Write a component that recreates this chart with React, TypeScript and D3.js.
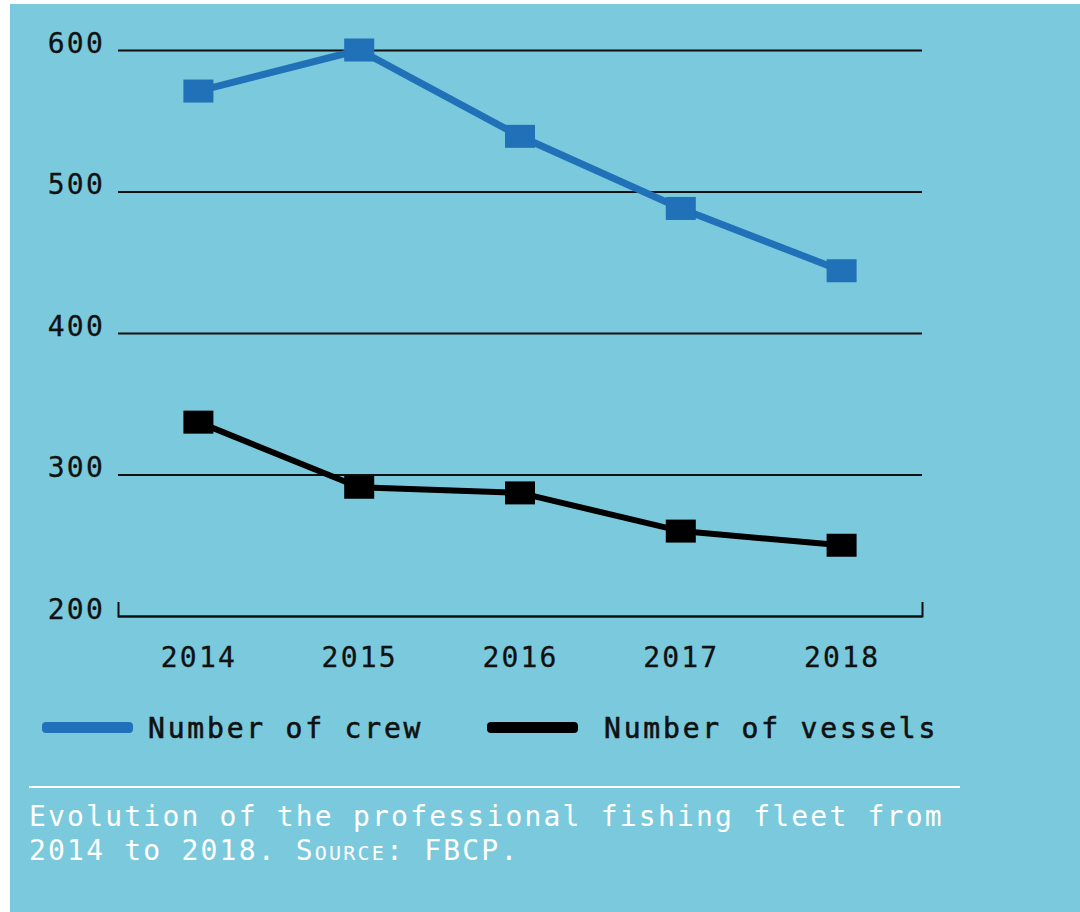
import React, { useEffect, useRef } from 'react';
import * as d3 from 'd3';

const years = ['2014', '2015', '2016', '2017', '2018'];
const crew = [571, 600, 539, 488, 444];
const vessels = [337, 291, 287, 260, 250];
const yTicks = [200, 300, 400, 500, 600];

const BG = '#7bc9dc';
const BLUE = '#2171b8';
const INK = '#111';
const FONT = '"DejaVu Sans Mono", "Liberation Mono", monospace';

const App: React.FC = () => {
  const ref = useRef<SVGSVGElement | null>(null);

  useEffect(() => {
    if (!ref.current) return;
    const svg = d3.select(ref.current);
    svg.selectAll('*').remove();

    svg.append('rect').attr('width', 1080).attr('height', 912).attr('fill', '#fff');
    svg.append('rect').attr('x', 10).attr('y', 4).attr('width', 1070).attr('height', 908).attr('fill', BG);

    const x = d3.scalePoint<string>().domain(years).range([118, 922]).padding(0.5);
    const y = d3.scaleLinear().domain([200, 600]).range([616, 50]);

    // horizontal grid + y labels
    const gy = svg.append('g')
      .attr('transform', 'translate(118,0)')
      .call(d3.axisLeft(y).tickValues(yTicks).tickSize(-804).tickPadding(13).tickFormat(d3.format('d')));
    gy.select('.domain').remove();
    gy.selectAll('.tick line').attr('stroke', INK).attr('stroke-width', 2);
    gy.selectAll('.tick text')
      .attr('fill', INK)
      .attr('stroke', INK)
      .attr('stroke-width', 0.3)
      .attr('dy', 2)
      .style('font-family', FONT)
      .style('font-size', '28px')
      .style('letter-spacing', '2.2px');

    // bottom axis with end ticks pointing up
    const gx = svg.append('g')
      .attr('transform', `translate(0,${y(200)})`)
      .call(d3.axisBottom(x).tickSizeInner(0).tickSizeOuter(-14).tickPadding(31));
    gx.select('.domain').attr('stroke', INK).attr('stroke-width', 2);
    gx.selectAll('.tick text')
      .attr('fill', INK)
      .attr('stroke', INK)
      .attr('stroke-width', 0.3)
      .style('font-family', FONT)
      .style('font-size', '28px')
      .style('letter-spacing', '2.2px');

    const line = d3.line<number>()
      .x((_, i) => x(years[i]) as number)
      .y(d => y(d));

    const series = [
      { values: crew, color: BLUE, width: 7 },
      { values: vessels, color: '#000', width: 6 },
    ];

    series.forEach(s => {
      svg.append('path')
        .datum(s.values)
        .attr('fill', 'none')
        .attr('stroke', s.color)
        .attr('stroke-width', s.width)
        .attr('d', line);
      svg.selectAll(null)
        .data(s.values)
        .enter()
        .append('rect')
        .attr('x', (_, i) => (x(years[i]) as number) - 15)
        .attr('y', d => y(d) - 11.5)
        .attr('width', 30)
        .attr('height', 23)
        .attr('fill', s.color);
    });

    // legend
    const legend = [
      { label: 'Number of crew', color: BLUE, x: 42, tx: 148 },
      { label: 'Number of vessels', color: '#000', x: 487, tx: 604 },
    ];
    legend.forEach(l => {
      svg.append('rect')
        .attr('x', l.x).attr('y', 722)
        .attr('width', 91).attr('height', 11)
        .attr('rx', 4)
        .attr('fill', l.color);
      svg.append('text')
        .attr('x', l.tx)
        .attr('y', 738)
        .attr('fill', INK)
        .attr('stroke', INK)
        .attr('stroke-width', 0.6)
        .style('font-family', FONT)
        .style('font-size', '28px')
        .style('letter-spacing', '2.8px')
        .text(l.label);
    });

    // separator + caption
    svg.append('line')
      .attr('x1', 29).attr('x2', 960)
      .attr('y1', 787).attr('y2', 787)
      .attr('stroke', '#fff').attr('stroke-width', 2);

    const cap = svg.append('text')
      .attr('fill', '#fff')
      .style('font-family', FONT)
      .style('font-size', '28px')
      .style('letter-spacing', '2.2px');
    cap.append('tspan').attr('x', 29).attr('y', 826).text('Evolution of the professional fishing fleet from');
    const l2 = cap.append('tspan').attr('x', 29).attr('y', 860);
    l2.append('tspan').text('2014 to 2018. ');
    l2.append('tspan').style('font-variant', 'small-caps').text('Source');
    l2.append('tspan').text(': FBCP.');
  }, []);

  return (
    <svg
      ref={ref}
      width={1080}
      height={912}
      style={{ position: 'absolute', left: 0, top: 0 }}
    />
  );
};

export default App;
